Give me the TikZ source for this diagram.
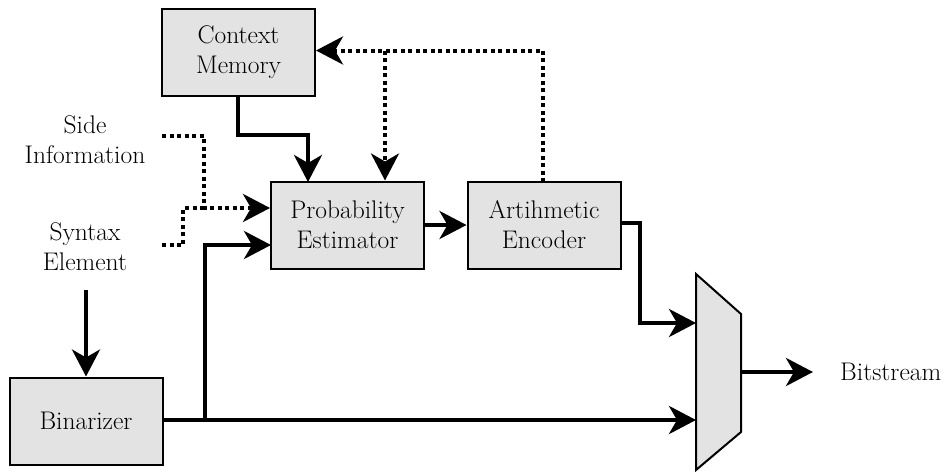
\documentclass[tikz,border=0pt]{standalone}
\usetikzlibrary{arrows.meta}
\definecolor{boxgray}{HTML}{E3E3E3}
\begin{document}
\begin{tikzpicture}[x=1pt,y=-1pt,
  font=\rmfamily\fontsize{25.5}{30}\selectfont,
  block/.style={draw, line width=2pt, fill=boxgray, align=center, inner sep=0pt,
    minimum width=153pt, minimum height=87pt},
  lbl/.style={align=center, inner sep=0pt},
  tip/.style={-{Stealth[length=27pt,width=28pt,inset=8pt]}},
  flow/.style={line width=4pt, tip},
  ctrl/.style={line width=4pt, dash pattern=on 4pt off 3.5pt},
]
\useasboundingbox (0,0) rectangle (944,471);

% processing blocks
\node[block] (ctx) at (238.5,52) {Context\\Memory};
\node[block] (pe)  at (347.5,225) {Probability\\Estimator};
\node[block] (ae)  at (544,225) {Artihmetic\\Encoder};
\node[block] (bin) at (86,421) {Binarizer};

% free-standing labels
\node[lbl] (side) at (85,140) {Side\\Information};
\node[lbl] (syn)  at (85,247) {Syntax\\Element};
\node[lbl, anchor=west] (bs) at (840,372) {Bitstream};

% multiplexer
\draw[line width=2pt, fill=boxgray] (696,274) -- (741,314) -- (741,432) -- (696,470) -- cycle;
\coordinate (muxA) at (696,323);
\coordinate (muxB) at (696,420);
\coordinate (muxO) at (741,372);

% helper points
\coordinate (cmA) at (238,135);
\coordinate (jn)  at (385,50.5);
\coordinate (aeT) at (543,182);
\coordinate (siA) at (162,136);
\coordinate (seA) at (162,245);
\coordinate (jx)  at (204,208);
\coordinate (jy)  at (183,208);
\coordinate (br)  at (205,420);
\coordinate (peB) at (271,245);
\coordinate (aeO) at (621,223);
\coordinate (synA) at (86,290);
\coordinate (bsA) at (813,372);

% solid data paths
\draw[flow] (ctx.south -| cmA) -- (cmA) -| (308,182);
\draw[flow] (pe.east) -- (ae.west);
\draw[flow] (aeO) -- (640,223) |- (muxA);
\draw[flow] (bin.east |- muxB) -- (muxB);
\draw[flow] (br) |- (peB);
\draw[flow] (synA) -- (bin.north);
\draw[flow] (muxO) -- (bsA);

% dotted context / side-information paths
\draw[ctrl, tip] (aeT) |- (ctx.east |- jn);
\draw[ctrl, tip] (jn) -- (jn |- pe.north);
\draw[ctrl] (seA) -| (jy) -- (jx);
\draw[ctrl, tip] (siA) -| (jx) -- (jx -| pe.west);
\end{tikzpicture}
\end{document}
